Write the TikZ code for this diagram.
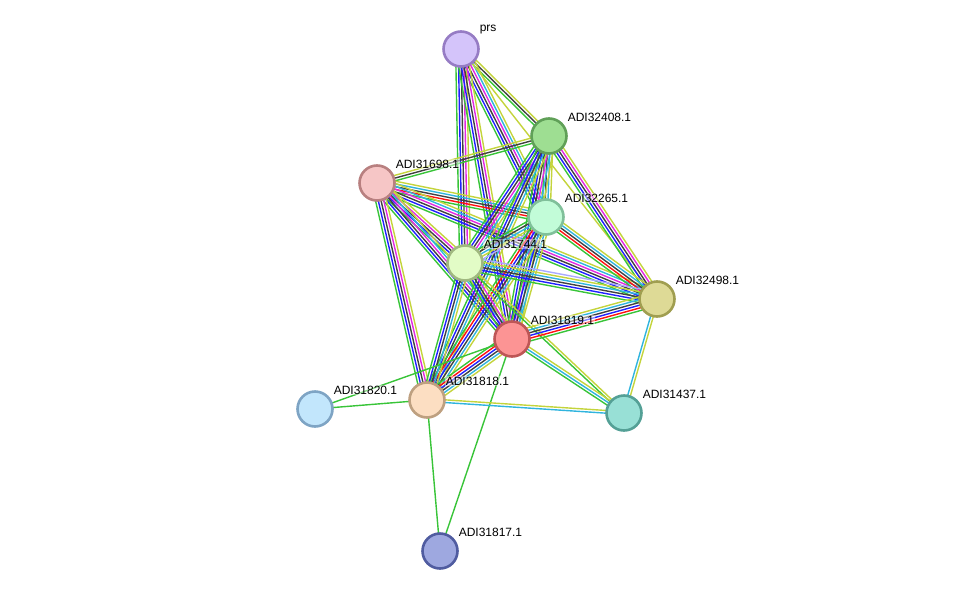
\documentclass[tikz,border=0pt]{standalone}
\usepackage{fontspec}
\setmainfont{Liberation Sans}
\usetikzlibrary{calc,backgrounds}
\definecolor{neigh}{RGB}{56,196,56}
\definecolor{fusion}{RGB}{255,16,16}
\definecolor{cooc}{RGB}{32,32,255}
\definecolor{coexp}{RGB}{64,64,64}
\definecolor{exper}{RGB}{226,40,226}
\definecolor{datab}{RGB}{48,180,222}
\definecolor{tmine}{RGB}{196,212,60}
\definecolor{homol}{RGB}{170,170,255}
\def\gap{2.7}
\newcommand{\evid}[3]{
    \foreach \col [count=\n] in {#3} {\xdef\nlines{\n}}
    \foreach \col [count=\i] in {#3} {
        \pgfmathsetmacro{\shiftby}{(\i-(\nlines+1)/2)*\gap}
        \draw[\col, line width=1.4pt] ($(#1)!\shiftby pt!90:(#2)$) -- ($(#2)!\shiftby pt!-90:(#1)$);
    }
}
\newcommand{\prot}[6]{
    \node[protein, fill=#4, draw=#5, label={[lbl]45:#6}] (#1) at (#2,#3) {};
}

\begin{document}
\begin{tikzpicture}[x=1pt, y=-1pt,
    protein/.style={circle, minimum size=35pt, inner sep=0pt, line width=2.6pt},
    lbl/.style={font=\fontsize{12}{14}\selectfont, label distance=2.5pt, inner sep=1pt,
        fill=white, fill opacity=0.45, text opacity=1, xshift=2.5pt, yshift=-1.5pt}]
    \useasboundingbox (0,0) rectangle (976,597);
    \prot{prs}{461}{49}{{rgb,255:red,212;green,196;blue,250}}{{rgb,255:red,150;green,124;blue,196}}{prs}
    \prot{p32408}{549}{136}{{rgb,255:red,158;green,222;blue,146}}{{rgb,255:red,96;green,160;blue,88}}{ADI32408.1}
    \prot{p31698}{377}{183}{{rgb,255:red,246;green,198;blue,198}}{{rgb,255:red,184;green,128;blue,128}}{ADI31698.1}
    \prot{p32265}{546}{217}{{rgb,255:red,194;green,252;blue,216}}{{rgb,255:red,128;green,192;blue,154}}{ADI32265.1}
    \prot{p31744}{465}{263}{{rgb,255:red,226;green,252;blue,198}}{{rgb,255:red,160;green,184;blue,128}}{ADI31744.1}
    \prot{p32498}{657}{299}{{rgb,255:red,222;green,218;blue,150}}{{rgb,255:red,160;green,158;blue,80}}{ADI32498.1}
    \prot{p31819}{512}{339}{{rgb,255:red,252;green,148;blue,148}}{{rgb,255:red,190;green,86;blue,86}}{ADI31819.1}
    \prot{p31820}{315}{409}{{rgb,255:red,194;green,230;blue,252}}{{rgb,255:red,126;green,164;blue,196}}{ADI31820.1}
    \prot{p31818}{427}{400}{{rgb,255:red,252;green,222;blue,194}}{{rgb,255:red,190;green,160;blue,128}}{ADI31818.1}
    \prot{p31437}{624}{413}{{rgb,255:red,152;green,224;blue,214}}{{rgb,255:red,84;green,160;blue,150}}{ADI31437.1}
    \prot{p31817}{440}{551}{{rgb,255:red,158;green,168;blue,224}}{{rgb,255:red,80;green,92;blue,160}}{ADI31817.1}
    \begin{pgfonlayer}{background}
        \evid{prs}{p32408}{neigh,coexp,tmine}
        \evid{prs}{p32265}{neigh,cooc,coexp,exper,datab,tmine}
        \evid{prs}{p31744}{neigh,cooc,coexp,exper,tmine}
        \evid{prs}{p31819}{neigh,cooc,coexp,exper,tmine}
        \evid{prs}{p32498}{tmine}
        \evid{p31698}{p32408}{neigh,coexp,tmine}
        \evid{p31698}{p32265}{neigh,fusion,coexp,datab,tmine}
        \evid{p31698}{p32498}{neigh,cooc,coexp,exper,datab,tmine}
        \evid{p31698}{p31744}{neigh,cooc,coexp,exper,tmine}
        \evid{p31698}{p31819}{neigh,cooc,coexp,exper,datab,tmine}
        \evid{p31698}{p31818}{neigh,cooc,coexp,exper,tmine}
        \evid{p32408}{p32265}{neigh,coexp,datab,tmine}
        \evid{p32408}{p31744}{neigh,cooc,coexp,exper,datab,tmine}
        \evid{p32408}{p31819}{neigh,cooc,coexp,exper,datab,tmine}
        \evid{p32408}{p31818}{neigh,cooc,coexp,datab,tmine}
        \evid{p32408}{p32498}{neigh,cooc,coexp,exper,tmine}
        \evid{p32265}{p31744}{neigh,coexp,datab,tmine,homol}
        \evid{p32265}{p32498}{neigh,fusion,coexp,datab,tmine}
        \evid{p32265}{p31819}{neigh,cooc,coexp,datab,tmine}
        \evid{p32265}{p31818}{neigh,fusion,cooc,coexp,datab,tmine}
        \evid{p31744}{p32498}{neigh,cooc,coexp,datab,tmine,homol}
        \evid{p31744}{p31819}{neigh,cooc,coexp,exper,tmine}
        \evid{p31744}{p31818}{neigh,cooc,coexp,datab,tmine}
        \evid{p31744}{p31437}{neigh,tmine}
        \evid{p31819}{p32498}{neigh,fusion,cooc,coexp,datab,tmine}
        \evid{p31819}{p31818}{neigh,fusion,cooc,coexp,datab,tmine}
        \evid{p31819}{p31437}{neigh,datab,tmine}
        \evid{p31819}{p31820}{neigh}
        \evid{p31819}{p31817}{neigh}
        \evid{p31818}{p31820}{neigh}
        \evid{p31818}{p31817}{neigh}
        \evid{p31818}{p31437}{datab,tmine}
        \evid{p32498}{p31437}{datab,tmine}
    \end{pgfonlayer}
\end{tikzpicture}
\end{document}
